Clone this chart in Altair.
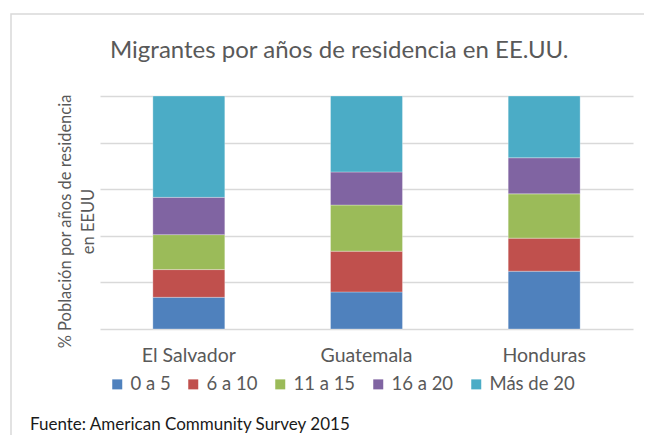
import altair as alt
import pandas as pd

countries = ["El Salvador", "Guatemala", "Honduras"]
groups = ["0 a 5", "6 a 10", "11 a 15", "16 a 20", "Más de 20"]
colors = ["#4F81BD", "#C0504D", "#9BBB59", "#8064A2", "#4BACC6"]
el_salvador = [13.6, 11.9, 15.0, 16.0, 43.5]
guatemala = [15.9, 17.5, 19.8, 14.2, 32.6]
honduras = [24.8, 14.2, 19.0, 15.5, 26.5]
title_text = "Migrantes por años de residencia en EE.UU."
y_title = ["% Población por años de residencia", "en EEUU"]
footer_text = "Fuente: American Community Survey 2015"

rows = []
for c, vals in zip(countries, [el_salvador, guatemala, honduras]):
    for i, (g, v) in enumerate(zip(groups, vals)):
        rows.append({"pais": c, "grupo": g, "orden": i, "pct": v})
df = pd.DataFrame(rows)

FONT = "Lato"
GREY = "#595959"

border = alt.Chart(pd.DataFrame({"k": [0]})).mark_rect(
    fill=None, stroke="#d9d9d9", strokeWidth=1.5
).encode(
    x=alt.value(-89), x2=alt.value(800), y=alt.value(-82), y2=alt.value(800)
)

bars = alt.Chart(df).mark_bar(stroke="white", strokeWidth=0.5, strokeOpacity=0.6).encode(
    x=alt.X(
        "pais:N", sort=countries,
        scale=alt.Scale(paddingInner=0.595, paddingOuter=0.2975),
        axis=alt.Axis(title=None, labelAngle=0, domain=False, ticks=False,
                      labelPadding=17, labelFontSize=19.5, labelColor=GREY, labelFont=FONT),
    ),
    y=alt.Y(
        "pct:Q", stack="zero", scale=alt.Scale(domain=[0, 100], nice=False),
        axis=alt.Axis(title=y_title, values=[0, 20, 40, 60, 80, 100], labels=False,
                      ticks=False, domain=False, gridColor="#d9d9d9", gridWidth=1.5,
                      titleFontSize=16.5, titleColor=GREY, titleFont=FONT,
                      titleFontWeight="normal", titleX=-35, titleY=125, titleAngle=270,
                      titleBaseline="middle", titleAlign="center", titleLineHeight=23),
    ),
    color=alt.Color(
        "grupo:N", sort=groups, scale=alt.Scale(domain=groups, range=colors),
        legend=alt.Legend(title=None, orient="none", legendX=8, legendY=279,
                          direction="horizontal", symbolType="square", symbolSize=100,
                          symbolStrokeWidth=0, labelFontSize=18.5, labelColor=GREY,
                          labelFont=FONT, columnPadding=13, labelOffset=4),
    ),
    order=alt.Order("orden:Q", sort="ascending"),
)

title = alt.Chart(pd.DataFrame({"t": [title_text]})).mark_text(
    align="left", baseline="alphabetic", font=FONT, fontSize=24, color=GREY
).encode(text="t:N", x=alt.value(10), y=alt.value(-38))

footer = alt.Chart(pd.DataFrame({"t": [footer_text]})).mark_text(
    align="left", baseline="alphabetic", font=FONT, fontSize=17, color="#1a1a1a"
).encode(text="t:N", x=alt.value(-70), y=alt.value(334))

chart = alt.layer(border, bars, title, footer).properties(
    width=533, height=233,
    padding={"left": 92, "top": 88, "right": 11, "bottom": 106},
    autosize=alt.AutoSizeParams(type="none"),
).configure_view(stroke=None)

chart.save("out.html", embed_options={"renderer": "svg", "actions": False})
